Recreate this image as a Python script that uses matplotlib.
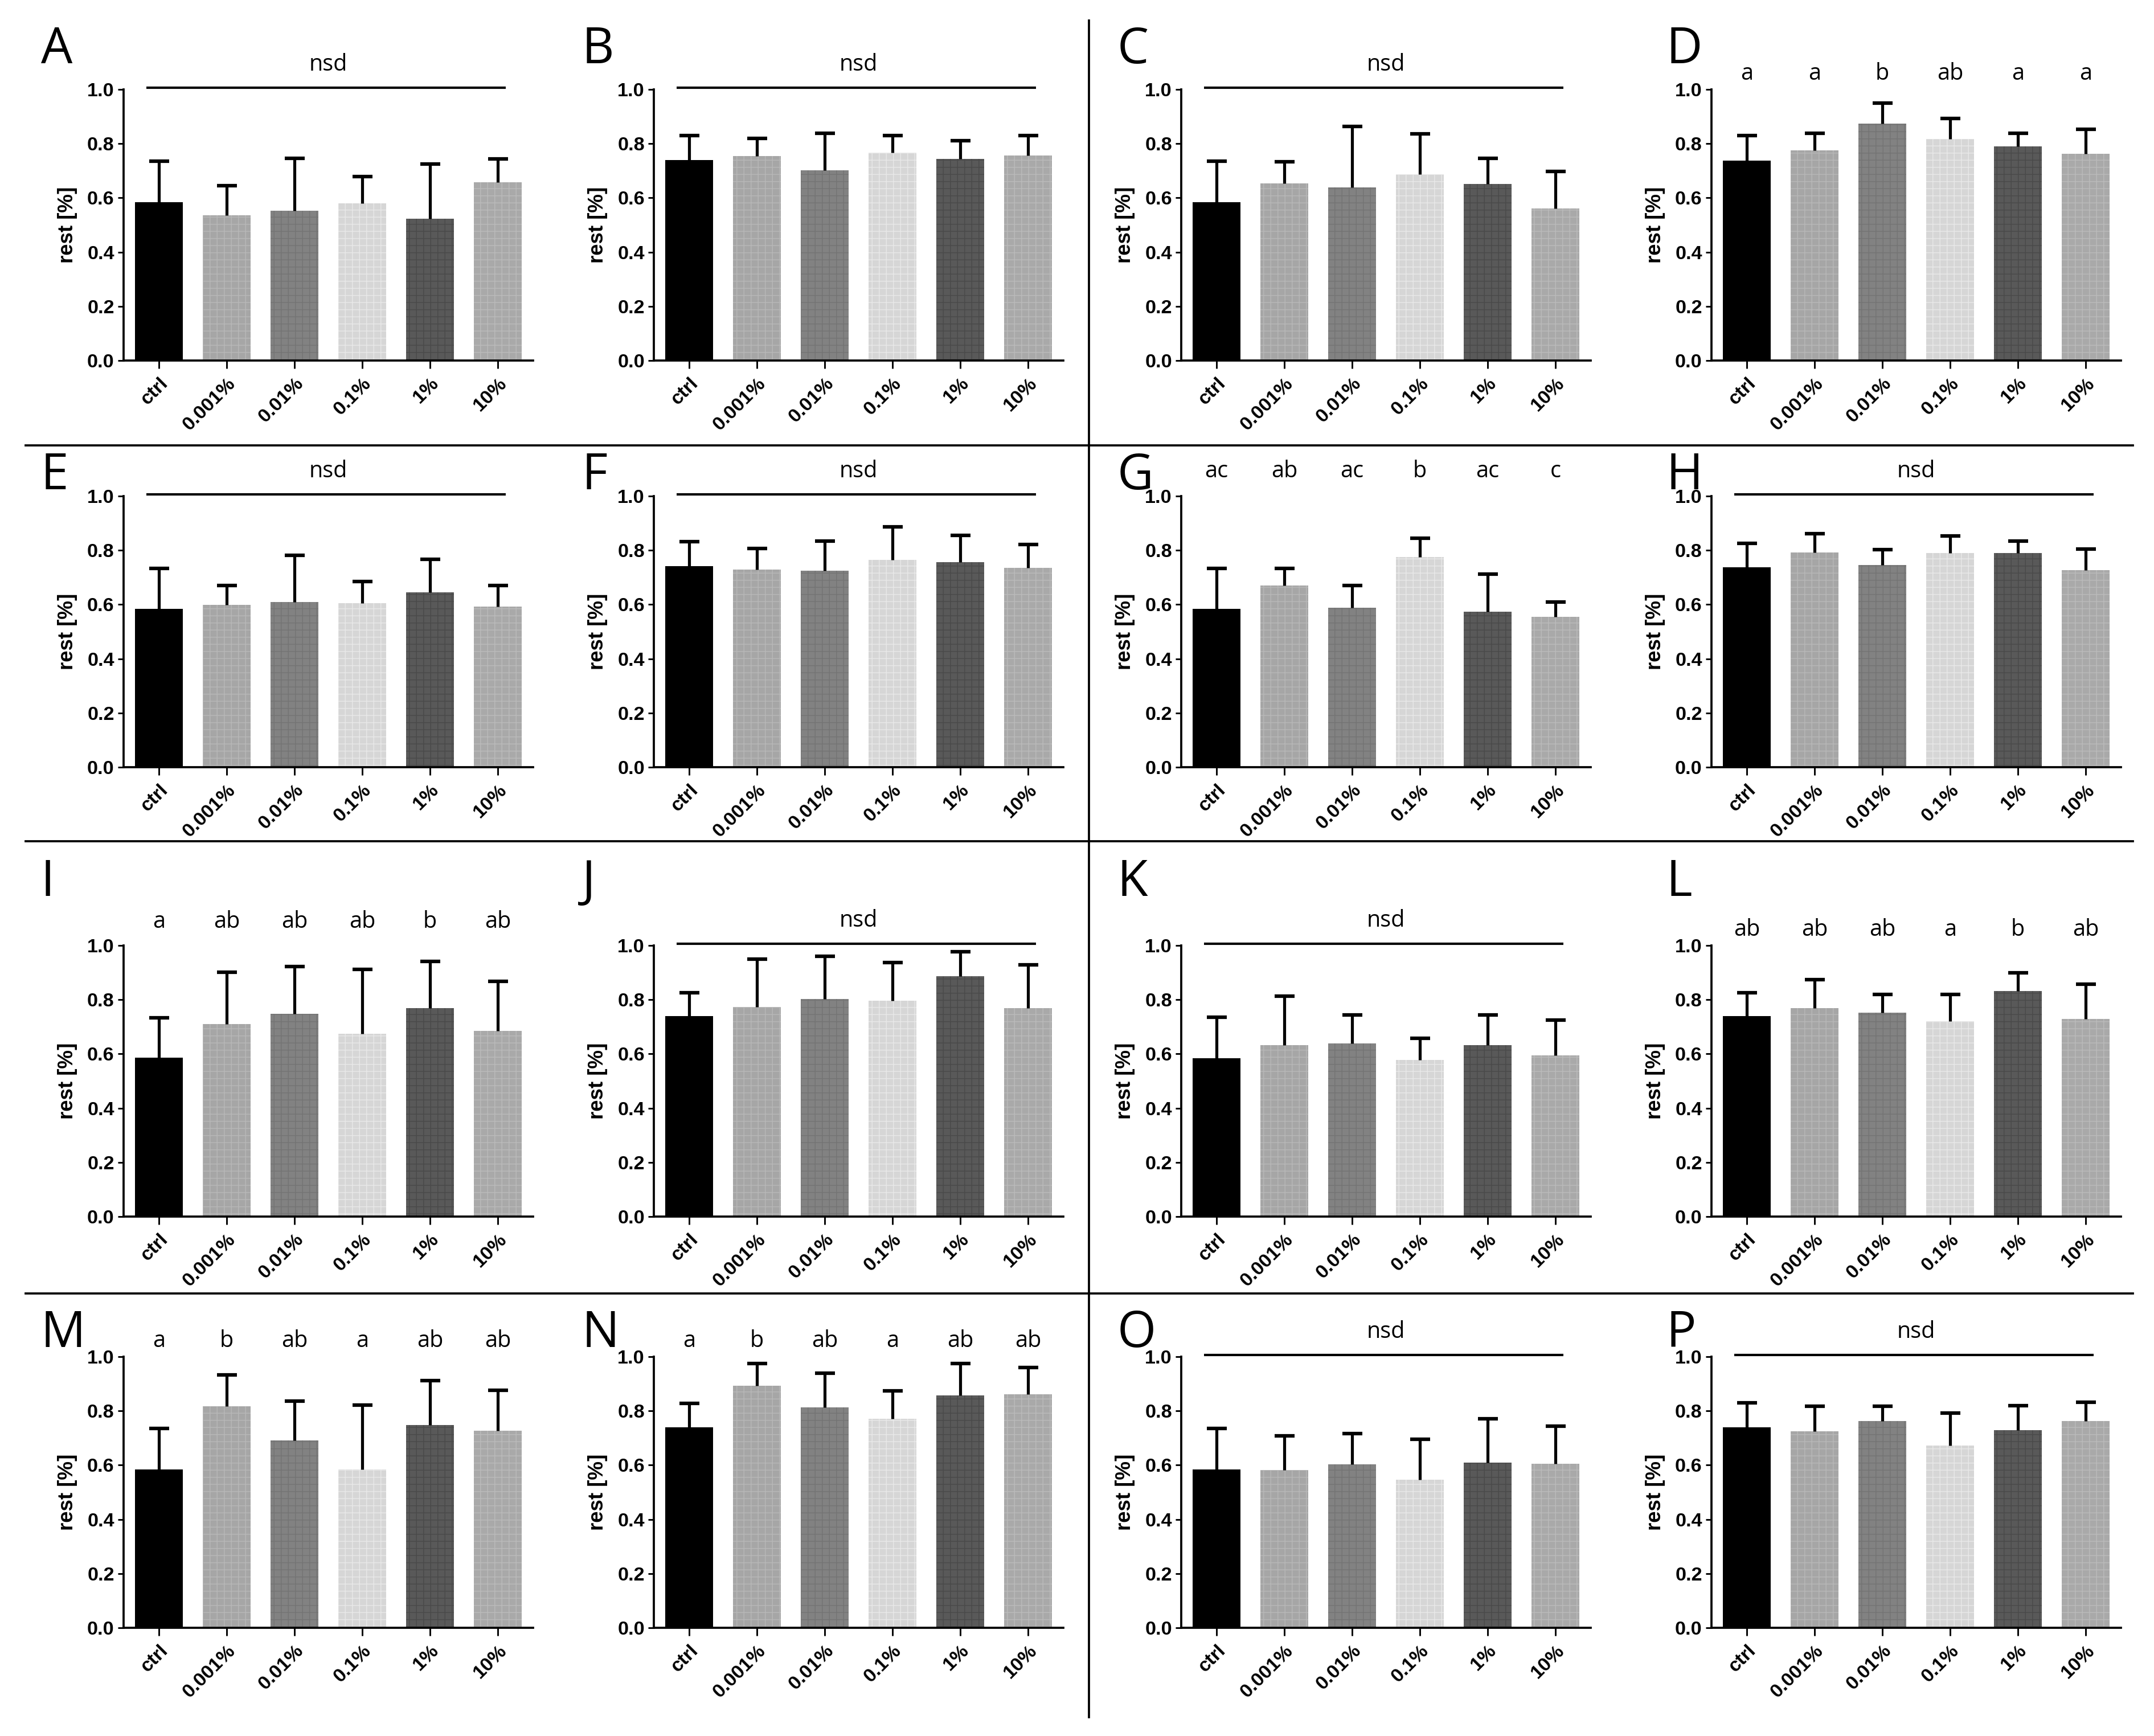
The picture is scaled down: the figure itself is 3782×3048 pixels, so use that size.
import numpy as np
import matplotlib
matplotlib.use('Agg')
import matplotlib.pyplot as plt
from matplotlib.lines import Line2D

plt.rcParams['font.family'] = ['Liberation Sans', 'DejaVu Sans']
plt.rcParams['hatch.linewidth'] = 0.35

groups = ['ctrl', '0.001%', '0.01%', '0.1%', '1%', '10%']
panels = list('ABCDEFGHIJKLMNOP')

# mean values and upper SD
mean_A = [0.585, 0.536, 0.552, 0.580, 0.524, 0.658]
sd_A = [0.151, 0.110, 0.194, 0.098, 0.200, 0.085]
mean_B = [0.739, 0.754, 0.701, 0.767, 0.743, 0.757]
sd_B = [0.090, 0.065, 0.138, 0.062, 0.068, 0.072]
mean_C = [0.584, 0.654, 0.638, 0.686, 0.652, 0.561]
sd_C = [0.152, 0.079, 0.226, 0.150, 0.094, 0.137]
mean_D = [0.738, 0.776, 0.874, 0.817, 0.790, 0.763]
sd_D = [0.091, 0.062, 0.075, 0.075, 0.048, 0.090]
mean_E = [0.584, 0.598, 0.609, 0.604, 0.645, 0.593]
sd_E = [0.149, 0.073, 0.173, 0.080, 0.121, 0.078]
mean_F = [0.742, 0.729, 0.725, 0.765, 0.757, 0.735]
sd_F = [0.090, 0.078, 0.109, 0.122, 0.097, 0.086]
mean_G = [0.584, 0.671, 0.589, 0.775, 0.574, 0.554]
sd_G = [0.150, 0.063, 0.082, 0.070, 0.138, 0.056]
mean_H = [0.737, 0.792, 0.746, 0.789, 0.790, 0.726]
sd_H = [0.089, 0.069, 0.056, 0.064, 0.044, 0.079]
mean_I = [0.586, 0.711, 0.747, 0.674, 0.768, 0.685]
sd_I = [0.148, 0.190, 0.176, 0.238, 0.173, 0.182]
mean_J = [0.739, 0.773, 0.803, 0.797, 0.886, 0.768]
sd_J = [0.086, 0.176, 0.157, 0.140, 0.091, 0.160]
mean_K = [0.583, 0.632, 0.639, 0.577, 0.632, 0.594]
sd_K = [0.152, 0.180, 0.105, 0.081, 0.112, 0.130]
mean_L = [0.740, 0.769, 0.753, 0.720, 0.832, 0.729]
sd_L = [0.086, 0.104, 0.066, 0.099, 0.068, 0.128]
mean_M = [0.585, 0.817, 0.691, 0.585, 0.748, 0.727]
sd_M = [0.150, 0.115, 0.145, 0.236, 0.164, 0.150]
mean_N = [0.740, 0.893, 0.812, 0.771, 0.857, 0.862]
sd_N = [0.087, 0.081, 0.127, 0.102, 0.118, 0.098]
mean_O = [0.584, 0.582, 0.603, 0.547, 0.610, 0.605]
sd_O = [0.151, 0.127, 0.114, 0.149, 0.162, 0.138]
mean_P = [0.740, 0.724, 0.762, 0.672, 0.728, 0.762]
sd_P = [0.090, 0.094, 0.056, 0.121, 0.092, 0.069]

# significance letters (panels without letters are "nsd")
letters_D = ['a', 'a', 'b', 'ab', 'a', 'a']
letters_G = ['ac', 'ab', 'ac', 'b', 'ac', 'c']
letters_I = ['a', 'ab', 'ab', 'ab', 'b', 'ab']
letters_L = ['ab', 'ab', 'ab', 'a', 'b', 'ab']
letters_M = ['a', 'b', 'ab', 'a', 'ab', 'ab']
letters_N = ['a', 'b', 'ab', 'a', 'ab', 'ab']

means = [mean_A, mean_B, mean_C, mean_D, mean_E, mean_F, mean_G, mean_H,
         mean_I, mean_J, mean_K, mean_L, mean_M, mean_N, mean_O, mean_P]
sds = [sd_A, sd_B, sd_C, sd_D, sd_E, sd_F, sd_G, sd_H,
       sd_I, sd_J, sd_K, sd_L, sd_M, sd_N, sd_O, sd_P]
letters = {'D': letters_D, 'G': letters_G, 'I': letters_I,
           'L': letters_L, 'M': letters_M, 'N': letters_N}
letter_y = {'D': 1.035, 'G': 1.07, 'I': 1.065, 'L': 1.035, 'M': 1.036, 'N': 1.036}

fills = ['#000000', '#a6a6a6', '#828282', '#d6d6d6', '#595959', '#a9a9a9']
hatch_cols = ['#000000', '#b7b7b7', '#747474', '#e8e8e8', '#4a4a4a', '#bababa']

W, H = 3782, 3048
DPI = 300
fig = plt.figure(figsize=(W / DPI, H / DPI), dpi=DPI)

col_left = [217, 1148, 2074, 3005]
row_top = [157, 871, 1660, 2382]
label_x = [72, 1022, 1962, 2925]
label_top = [44, 792, 1506, 2298]
ax_w, ax_h = 719, 476

x = np.arange(len(groups))
for p_ind, name in enumerate(panels):
    r, c = divmod(p_ind, 4)
    left = col_left[c] / W
    bottom = 1 - (row_top[r] + ax_h) / H
    ax = fig.add_axes([left, bottom, ax_w / W, ax_h / H])
    m = np.array(means[p_ind])
    s = np.array(sds[p_ind])
    ax.bar(x, m, width=0.71, color=fills, edgecolor='none', zorder=2)
    for i in range(1, len(groups)):
        ax.bar(x[i], m[i], width=0.71, color='none', edgecolor=hatch_cols[i],
               linewidth=0, hatch='++++', zorder=2.1)
    eb = ax.errorbar(x, m, yerr=[np.zeros_like(s), s], fmt='none', ecolor='black',
                     elinewidth=1.25, capsize=4.2, capthick=1.5, zorder=3)
    eb[1][0].set_visible(False)

    ax.set_xlim(-0.52, 5.52)
    ax.set_ylim(0, 1.0)
    ax.set_yticks([0, 0.2, 0.4, 0.6, 0.8, 1.0])
    ax.set_yticklabels(['0.0', '0.2', '0.4', '0.6', '0.8', '1.0'])
    ax.set_xticks(x)
    ax.set_xticklabels(groups, rotation=45, ha='right', va='top', rotation_mode='anchor')
    for lab in ax.get_xticklabels() + ax.get_yticklabels():
        lab.set_fontweight('bold')
        lab.set_fontsize(8.2)
    ax.tick_params(axis='y', length=2.4, width=0.7, pad=1.5)
    ax.tick_params(axis='x', length=3.4, width=0.7, pad=2.5)
    ax.spines['top'].set_visible(False)
    ax.spines['right'].set_visible(False)
    ax.spines['left'].set_linewidth(0.9)
    ax.spines['bottom'].set_linewidth(0.9)
    ax.set_ylabel('rest [%]', fontsize=8.8, fontweight='bold', labelpad=4)

    if name in letters:
        for i, lt in enumerate(letters[name]):
            ax.text(x[i], letter_y[name], lt, ha='center', va='baseline',
                    fontsize=9.5, family=['Open Sans', 'DejaVu Sans'], clip_on=False)
    else:
        ax.plot([-0.18, 5.12], [1.007, 1.007], color='black', lw=1.0,
                clip_on=False, solid_capstyle='butt')
        ax.text(2.5, 1.07, 'nsd', ha='center', va='baseline', fontsize=9.5,
                family=['Open Sans', 'DejaVu Sans'])

    fig.text(label_x[c] / W, 1 - label_top[r] / H, name, ha='left', va='top',
             fontsize=21, family=['Open Sans', 'DejaVu Sans'])

# separators between the panel groups
fig.add_artist(Line2D([1912 / W, 1912 / W], [1 - 36 / H, 1 - 3015 / H],
                      transform=fig.transFigure, color='black', lw=0.9))
for yy in [782, 1477, 2271]:
    fig.add_artist(Line2D([45 / W, 3745 / W], [1 - yy / H, 1 - yy / H],
                          transform=fig.transFigure, color='black', lw=0.9))

plt.savefig('out.png', dpi=DPI)
